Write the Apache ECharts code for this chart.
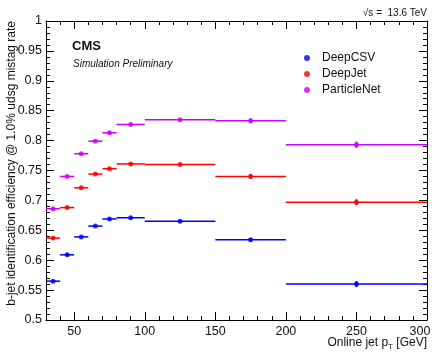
<!DOCTYPE html>
<html>
<head>
<meta charset="utf-8">
<script src="https://cdn.jsdelivr.net/npm/echarts@6/dist/echarts.min.js"></script>
<style>html,body{margin:0;padding:0;background:#fff}#c{width:438px;height:352px}</style>
</head>
<body>
<div id="c"></div>
<script>
// Bins in online jet pT [GeV]
var binLow    = [30, 40, 50, 60, 70, 80, 100, 150, 200];
var binHigh   = [40, 50, 60, 70, 80, 100, 150, 200, 300];
var binCenter = [35, 45, 55, 65, 75, 90, 125, 175, 250];

var deepCSV     = [0.565, 0.609, 0.639, 0.657, 0.669, 0.671, 0.665, 0.634, 0.560];
var deepCSVErr  = [0.002, 0.002, 0.002, 0.002, 0.002, 0.002, 0.002, 0.003, 0.005];
var deepJet     = [0.637, 0.688, 0.721, 0.744, 0.753, 0.761, 0.760, 0.740, 0.697];
var deepJetErr  = [0.002, 0.002, 0.002, 0.002, 0.002, 0.002, 0.002, 0.004, 0.005];
var particleNet    = [0.686, 0.740, 0.778, 0.799, 0.813, 0.827, 0.835, 0.833, 0.793];
var particleNetErr = [0.002, 0.002, 0.002, 0.002, 0.002, 0.002, 0.002, 0.004, 0.005];

var seriesNames = ['DeepCSV', 'DeepJet', 'ParticleNet'];
var xMajorTicks = [50, 100, 150, 200, 250, 300];

var colors = ['#0000ff', '#ff0000', '#cc00ff'];
var values = [deepCSV, deepJet, particleNet];
var errors = [deepCSVErr, deepJetErr, particleNetErr];

var chart = echarts.init(document.getElementById('c'), null, {renderer: 'canvas'});
var FONT = 'Liberation Sans, Arial, Helvetica, sans-serif';

var series = [];
seriesNames.forEach(function (name, k) {
  var errData = binCenter.map(function (c, i) {
    return [binLow[i], binHigh[i], c, values[k][i], errors[k][i]];
  });
  series.push({
    name: name + ' bins',
    type: 'custom',
    xAxisIndex: 0, yAxisIndex: 0,
    data: errData,
    encode: {x: [0, 1], y: 3},
    clip: true,
    renderItem: function (params, api) {
      var lo = api.value(0), hi = api.value(1), c = api.value(2), v = api.value(3), e = api.value(4);
      var p1 = api.coord([lo, v]), p2 = api.coord([hi, v]);
      var q1 = api.coord([c, v - e]), q2 = api.coord([c, v + e]);
      return {
        type: 'group',
        children: [
          {type: 'line', shape: {x1: p1[0], y1: p1[1], x2: p2[0], y2: p2[1]},
           style: {stroke: colors[k], lineWidth: 1.5}},
          {type: 'line', shape: {x1: q1[0], y1: q1[1], x2: q2[0], y2: q2[1]},
           style: {stroke: colors[k], lineWidth: 2.2}}
        ]
      };
    },
    z: 2
  });
  series.push({
    name: name,
    type: 'scatter',
    xAxisIndex: 0, yAxisIndex: 0,
    data: binCenter.map(function (c, i) { return [c, values[k][i]]; }),
    symbol: 'circle',
    symbolSize: 5,
    itemStyle: {color: colors[k]},
    z: 3
  });
});

var axisLineStyle = {show: true, lineStyle: {color: '#000', width: 1}};

var option = {
  animation: false,
  backgroundColor: '#fff',
  textStyle: {fontFamily: FONT},
  grid: {left: 46, right: 11, top: 21, bottom: 32, containLabel: false, outerBoundsMode: 'none'},
  legend: {
    data: seriesNames,
    orient: 'vertical',
    left: 299, top: 47,
    itemWidth: 6, itemHeight: 6, itemGap: 4,
    icon: 'circle',
    textStyle: {fontFamily: FONT, fontSize: 12, color: '#111', padding: [0, 0, 0, 7]},
    selectedMode: false
  },
  xAxis: [
    {type: 'value', position: 'bottom', min: 30, max: 300, interval: 10,
     axisLine: axisLineStyle, axisTick: {inside: true, length: 4, lineStyle: {color: '#000'}},
     axisLabel: {show: false}, splitLine: {show: false}},
    {type: 'value', position: 'bottom', min: 30, max: 300,
     axisLine: {show: false},
     axisTick: {inside: true, length: 8, customValues: xMajorTicks, lineStyle: {color: '#000'}},
     axisLabel: {customValues: xMajorTicks, fontFamily: FONT, fontSize: 12.5, color: '#111', margin: 5,
       formatter: function (v) { return v === 300 ? '{last|' + v + '}' : String(v); },
       rich: {last: {fontFamily: FONT, fontSize: 12.5, color: '#111', padding: [0, 14, 0, 0]}}},
     splitLine: {show: false}},
    {type: 'value', position: 'top', min: 30, max: 300, interval: 10,
     axisLine: axisLineStyle, axisTick: {inside: true, length: 4, lineStyle: {color: '#000'}},
     axisLabel: {show: false}, splitLine: {show: false}},
    {type: 'value', position: 'top', min: 30, max: 300,
     axisLine: {show: false},
     axisTick: {inside: true, length: 8, customValues: xMajorTicks, lineStyle: {color: '#000'}},
     axisLabel: {show: false}, splitLine: {show: false}}
  ],
  yAxis: [
    {type: 'value', position: 'left', min: 0.5, max: 1, interval: 0.05,
     axisLine: axisLineStyle,
     axisTick: {inside: true, length: 8, lineStyle: {color: '#000'}},
     minorTick: {show: true, splitNumber: 5, length: 4, lineStyle: {color: '#000'}},
     axisLabel: {fontFamily: FONT, fontSize: 12.5, color: '#111', margin: 4},
     splitLine: {show: false}, minorSplitLine: {show: false}},
    {type: 'value', position: 'right', min: 0.5, max: 1, interval: 0.05,
     axisLine: axisLineStyle,
     axisTick: {inside: true, length: 8, lineStyle: {color: '#000'}},
     minorTick: {show: true, splitNumber: 5, length: 4, lineStyle: {color: '#000'}},
     axisLabel: {show: false},
     splitLine: {show: false}, minorSplitLine: {show: false}}
  ],
  graphic: [
    {type: 'text', left: 72, top: 40,
     style: {text: 'CMS', font: 'bold 13px ' + FONT, fill: '#111'}},
    {type: 'text', left: 73, top: 59,
     style: {text: 'Simulation Preliminary', font: 'italic 10px ' + FONT, fill: '#111'}},
    {type: 'text', x: 427, y: 13,
     style: {text: '√s =  13.6 TeV', font: '10px ' + FONT, fill: '#111', align: 'right', verticalAlign: 'middle'}},
    {type: 'text', x: 427, y: 343,
     style: {
       text: 'Online jet p{sub|T} [GeV]',
       rich: {sub: {fontSize: 8, padding: [7, 0, 0, 0], fontFamily: FONT, fill: '#111'}},
       font: '12px ' + FONT, fill: '#111', align: 'right', verticalAlign: 'middle'
     }},
    {type: 'text', x: 12, y: 21, rotation: Math.PI / 2,
     style: {text: 'b-jet identification efficiency @ 1.0% udsg mistag rate',
             font: '12px ' + FONT, fill: '#111', align: 'right', verticalAlign: 'middle'}}
  ],
  series: series
};
chart.setOption(option);
</script>
</body>
</html>
